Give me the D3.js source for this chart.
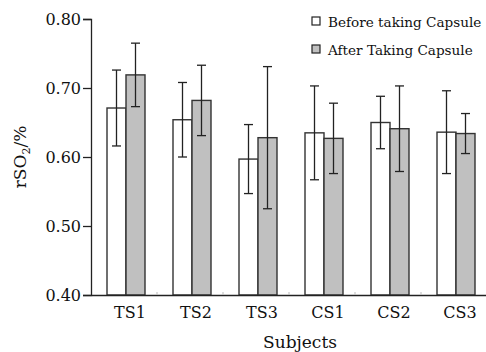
<!DOCTYPE html>
<html>
<head>
<meta charset="utf-8">
<script src="https://cdn.jsdelivr.net/npm/d3@7"></script>
<style>
  body { margin: 0; background: #fff; }
  text { font-family: "DejaVu Serif", serif; fill: #111; }
</style>
</head>
<body>
<svg id="chart" width="486" height="352"></svg>
<script>
// data
const subjects = ['TS1', 'TS2', 'TS3', 'CS1', 'CS2', 'CS3'];
const seriesNames = ['Before taking Capsule', 'After Taking Capsule'];
const beforeMean = [0.671, 0.654, 0.597, 0.635, 0.650, 0.636];
const beforeSd = [0.055, 0.054, 0.050, 0.068, 0.038, 0.060];
const afterMean = [0.719, 0.682, 0.628, 0.627, 0.641, 0.634];
const afterSd = [0.046, 0.051, 0.103, 0.051, 0.062, 0.029];
const yTicks = [0.40, 0.50, 0.60, 0.70, 0.80];

const svg = d3.select('#chart');
const margin = { left: 91, right: 0, top: 19, bottom: 57 };
const width = Number(svg.attr('width'));
const height = Number(svg.attr('height'));
const colors = ['#ffffff', '#c0c0c0'];

const x = d3.scaleBand()
	.domain(subjects)
	.range([margin.left, margin.left + 6 * 66])
	.paddingInner(0)
	.paddingOuter(0);
const inner = d3.scaleBand()
	.domain([0, 1])
	.range([16, 54]);
const y = d3.scaleLinear()
	.domain([0.4, 0.8])
	.range([height - margin.bottom, margin.top]);

const rows = subjects.map((s, i) => ({
	s,
	vals: [
		{ k: 0, m: beforeMean[i], sd: beforeSd[i] },
		{ k: 1, m: afterMean[i], sd: afterSd[i] },
	],
}));

const group = svg.append('g').selectAll('g')
	.data(rows)
	.enter().append('g')
		.attr('transform', (d) => `translate(${x(d.s)},0)`);

const bar = group.selectAll('g')
	.data((d) => d.vals)
	.enter().append('g');

bar.append('rect')
	.attr('x', (d) => inner(d.k))
	.attr('width', inner.bandwidth())
	.attr('y', (d) => y(d.m))
	.attr('height', (d) => y(0.4) - y(d.m))
	.attr('fill', (d) => colors[d.k])
	.attr('stroke', '#333')
	.attr('stroke-width', 1.4);

const cx = (d) => inner(d.k) + inner.bandwidth() / 2;
bar.append('line')
	.attr('x1', cx).attr('x2', cx)
	.attr('y1', (d) => y(d.m + d.sd))
	.attr('y2', (d) => y(d.m - d.sd))
	.attr('stroke', '#222').attr('stroke-width', 1.3);
[1, -1].forEach((sgn) => {
	bar.append('line')
		.attr('x1', (d) => cx(d) - 4.5)
		.attr('x2', (d) => cx(d) + 4.5)
		.attr('y1', (d) => y(d.m + sgn * d.sd))
		.attr('y2', (d) => y(d.m + sgn * d.sd))
		.attr('stroke', '#222').attr('stroke-width', 1.3);
});

// y axis
const yAxis = svg.append('g')
	.attr('transform', `translate(${margin.left},0)`)
	.call(d3.axisLeft(y).tickValues(yTicks).tickFormat(d3.format('.2f')).tickSize(8).tickPadding(2));
yAxis.select('.domain').attr('stroke', '#222').attr('stroke-width', 1.3);
yAxis.selectAll('.tick line').attr('stroke', '#222').attr('stroke-width', 1.3);
yAxis.selectAll('text').style('font-size', '16px').style('font-family', '"DejaVu Serif", serif').attr('fill', '#111');

// x axis
const xAxis = svg.append('g')
	.attr('transform', `translate(0,${y(0.4)})`)
	.call(d3.axisBottom(x).tickSize(0).tickPadding(12));
xAxis.select('.domain').attr('stroke', '#222').attr('stroke-width', 1.3);
xAxis.selectAll('text')
	.attr('dx', 6)
	.style('font-size', '16px').style('font-family', '"DejaVu Serif", serif').attr('fill', '#111');
svg.append('g').selectAll('line')
	.data(subjects.slice(1))
	.enter().append('line')
		.attr('x1', (d) => x(d)).attr('x2', (d) => x(d))
		.attr('y1', y(0.4)).attr('y2', y(0.4) - 3)
		.attr('stroke', '#bbb');

// axis titles
svg.append('text')
	.attr('x', 300).attr('y', 348)
	.attr('text-anchor', 'middle')
	.style('font-size', '17px')
	.text('Subjects');

const yt = svg.append('text')
	.attr('transform', 'translate(26,157) rotate(-90)')
	.attr('text-anchor', 'middle')
	.style('font-size', '17px');
yt.append('tspan').text('rSO');
yt.append('tspan').attr('dy', 4).style('font-size', '11px').text('2');
yt.append('tspan').attr('dy', -4).text('/%');

// legend
const legend = svg.append('g').selectAll('g')
	.data(seriesNames)
	.enter().append('g')
		.attr('transform', (d, i) => `translate(312,${17 + i * 28})`);
legend.append('rect')
	.attr('width', 8).attr('height', 8)
	.attr('fill', (d, i) => colors[i])
	.attr('stroke', '#222').attr('stroke-width', 1.2);
legend.append('text')
	.attr('x', 16).attr('y', 10)
	.style('font-size', '13.6px')
	.text((d) => d);
</script>
</body>
</html>
